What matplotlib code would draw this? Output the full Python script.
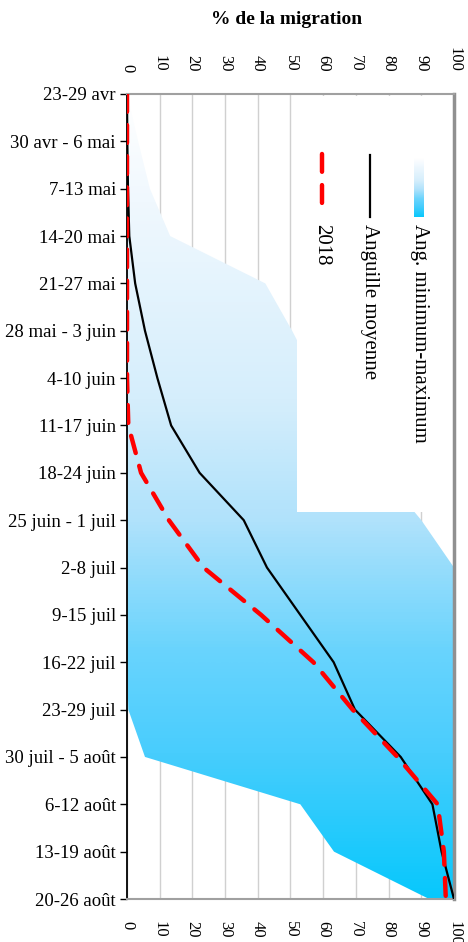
import numpy as np
import matplotlib.pyplot as plt
from matplotlib.colors import LinearSegmentedColormap
from matplotlib.lines import Line2D

plt.rcParams['font.family'] = ['Liberation Serif', 'DejaVu Serif']

weeks = ['23-29 avr', '30 avr - 6 mai', '7-13 mai', '14-20 mai', '21-27 mai',
         '28 mai - 3 juin', '4-10 juin', '11-17 juin', '18-24 juin',
         '25 juin - 1 juil', '2-8 juil', '9-15 juil', '16-22 juil',
         '23-29 juil', '30 juil - 5 août', '6-12 août', '13-19 août',
         '20-26 août']

# % cumulé de la migration
moyenne = [0, 0.1, 0.3, 0.7, 2.5, 5.5, 9.3, 13.5, 22.2, 35.7, 42.8, 53.0,
           63.2, 69.7, 83.7, 93.4, 96.2, 100]
annee_2018 = [0, 0, 0, 0, 0, 0, 0, 0.4, 4.3, 12.8, 23.4, 41.0, 57.0, 69.0,
              82.7, 95.0, 96.9, 97.5]
ang_min = [0, 0, 0, 0, 0, 0, 0, 0, 0, 0, 0, 0, 0, 0.4, 5.5, 53.0, 63.3, 92.4]
ang_max = [0, 3.4, 7.0, 13.2, 42.3, 50.5, 58, 66, 78, 90.0, 100, 100, 100,
           100, 100, 100, 100, 100]

W, H = 468, 942
fig = plt.figure(figsize=(W / 100, H / 100), dpi=100)


def px(x0, y0, x1, y1):
    return [x0 / W, 1 - y1 / H, (x1 - x0) / W, (y1 - y0) / H]


ax = fig.add_axes(px(127, 94, 454, 899))
y = np.arange(len(weeks))

cmap = LinearSegmentedColormap.from_list('bleu', [
    (0.0, '#ffffff'), (0.13, '#f0f8fe'), (0.38, '#d5eefc'), (0.53, '#b0e2fb'),
    (0.69, '#6ad4fd'), (0.82, '#48cdfd'), (1.0, '#08c8fc')])
grad = np.linspace(0, 1, 256).reshape(-1, 1)
poly = ax.fill_betweenx(y, ang_min, ang_max, color='none', lw=0)
img = ax.imshow(grad, cmap=cmap, aspect='auto', extent=[0, 100, len(weeks) - 1, 0],
                zorder=1, interpolation='bicubic')
img.set_clip_path(poly.get_paths()[0], transform=ax.transData)

ax.plot(moyenne, y, color='black', lw=1.6, zorder=3)
ax.plot(annee_2018, y, color='#ff0000', lw=3.2, dashes=(4, 3),
        dash_capstyle='round', zorder=4)

ax.set_xlim(0, 100)
ax.set_ylim(len(weeks) - 1, 0)
ax.set_yticks(y)
ax.set_yticklabels(weeks, fontsize=13.5)
ax.set_xticks(np.arange(0, 101, 10))
ax.tick_params(axis='x', top=True, labeltop=True, bottom=False, length=0,
               labelsize=12, labelrotation=-90, pad=16)
ax.tick_params(axis='y', length=5, width=1, direction='out', pad=3)
for t in ax.xaxis.get_major_ticks():
    t.label1.set_va('top')
    t.label2.set_va('bottom')
ax.grid(axis='x', color='#d0d0d0', lw=1, zorder=0)
ax.set_axisbelow(True)
ax.spines['left'].set_color('black')
ax.spines['left'].set_linewidth(1.3)
for s in ['top', 'bottom']:
    ax.spines[s].set_color('#a0a0a0')
    ax.spines[s].set_linewidth(1.5)
ax.spines['right'].set_color('#909090')
ax.spines['right'].set_linewidth(2.5)
fig.text(287 / W, 1 - 20 / H, '% de la migration', fontsize=14,
         fontweight='bold', ha='center', va='center')

# légende (pivotée)
lg = fig.add_axes(px(297, 96, 452, 512))
lg.set_xlim(297, 452)
lg.set_ylim(512, 96)
lg.axis('off')
lg.add_patch(plt.Rectangle((297, 96), 155, 416, color='white', zorder=0))
lg.imshow(grad, cmap=cmap, aspect='auto', extent=[414, 424, 217, 158], zorder=2)
lg.add_line(Line2D([370, 370], [155, 217], color='black', lw=1.6))
lg.add_line(Line2D([322, 322], [154, 208], color='#ff0000', lw=3.2,
                   dashes=(4, 3), dash_capstyle='round'))
for xx, txt in [(419, 'Ang. minimum-maximum'), (370, 'Anguille moyenne'), (322, '2018')]:
    lg.text(xx, 224, txt, rotation=-90, ha='center', va='top', fontsize=15)

fig.savefig('out.png', dpi=100)
